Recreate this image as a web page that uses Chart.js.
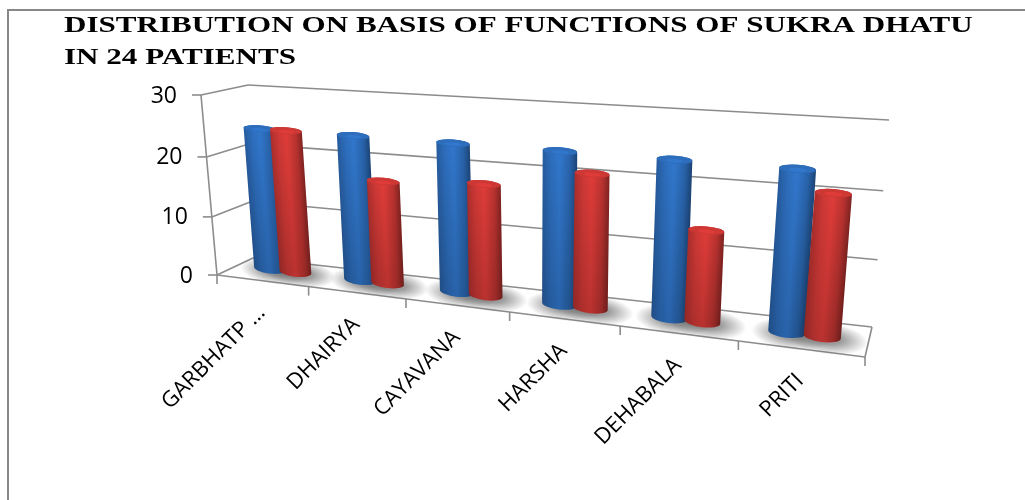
<!DOCTYPE html>
<html>
<head>
<meta charset="utf-8">
<style>
  html, body { margin: 0; padding: 0; background: #fff; }
  #grafica { display: block; }
</style>
<script src="https://cdn.jsdelivr.net/npm/chart.js@4"></script>
</head>
<body>
<canvas id="grafica" width="1025" height="500"></canvas>
<script>
const titleLines = ['DISTRIBUTION ON BASIS OF FUNCTIONS OF SUKRA DHATU', 'IN 24 PATIENTS'];
const categories = ['GARBHATP …', 'DHAIRYA', 'CAYAVANA', 'HARSHA', 'DEHABALA', 'PRITI'];
const blueValues = [24, 24, 24, 24, 24, 24];
const redValues = [24, 17, 18, 21, 14, 21];
const yTicks = [0, 10, 20, 30];

// corners of the 3D box: bottom-left, bottom-right, top-right, top-left
const frontPlane = [[217, 275], [865, 357], [884, 141], [201, 95]];
const backPlane = [[253, 258], [872, 327], [889, 120], [248, 85]];
// plane the cylinders stand on, about halfway back
const barPlane = [[239, 265], [867, 342], [886, 131], [224.5, 90]];

const axisColor = '#8c8c8c';
const labelFont = '"Open Sans", sans-serif';
const palettes = { '#2f72c4': [47, 114, 196], '#d63a37': [214, 58, 55] };

let area = null;

// unit square -> quad
function planeMap(q) {
    const [x0, y0] = q[0], [x1, y1] = q[1], [x2, y2] = q[2], [x3, y3] = q[3];
    const dx1 = x1 - x2, dx2 = x3 - x2, sx = x0 - x1 + x2 - x3;
    const dy1 = y1 - y2, dy2 = y3 - y2, sy = y0 - y1 + y2 - y3;
    const den = dx1 * dy2 - dx2 * dy1;
    const g = (sx * dy2 - dx2 * sy) / den, h = (dx1 * sy - sx * dy1) / den;
    const a = x1 - x0 + g * x1, b = x3 - x0 + h * x3;
    const d = y1 - y0 + g * y1, e = y3 - y0 + h * y3;
    return (u, v) => {
        const w = g * u + h * v + 1;
        return [(a * u + b * v + x0) / w, (d * u + e * v + y0) / w];
    };
}
const front = planeMap(frontPlane);
const back = planeMap(backPlane);
const mid = planeMap(barPlane);

function line(ctx, a, b) {
    ctx.beginPath();
    ctx.moveTo(a[0], a[1]);
    ctx.lineTo(b[0], b[1]);
    ctx.stroke();
}

function shade(rgb, f) {
    return 'rgb(' + rgb.map(c => Math.round(c * f)).join(',') + ')';
}

// bar element geometry -> cylinder on the middle plane of the box
function cylinderShape(el) {
    const u = (el.x - area.left) / area.width;
    const v = (area.bottom - el.y) / area.height;
    const bottom = mid(u, 0), top = mid(u, v);
    const next = mid(u + 0.01, 0), nextTop = mid(u + 0.01, v);
    const planeHeight = Math.abs(mid(u, 1)[1] - bottom[1]);
    const rx = el.width / area.width * planeHeight * 1.85;
    return {
        bottom, top, rx,
        tiltBottom: Math.atan2(next[1] - bottom[1], next[0] - bottom[0]),
        tiltTop: Math.atan2(nextTop[1] - top[1], nextTop[0] - top[0])
    };
}

// bars become cylinders standing on the floor of the box
Chart.BarElement.prototype.draw = function (ctx) {
    const s = cylinderShape(this);
    const rgb = palettes[this.options.backgroundColor];
    const ax = s.top[0] - s.bottom[0], ay = s.top[1] - s.bottom[1];
    const len = Math.hypot(ax, ay);
    const px = -ay / len * s.rx, py = ax / len * s.rx;
    const cx = (s.top[0] + s.bottom[0]) / 2, cy = (s.top[1] + s.bottom[1]) / 2;

    ctx.save();
    const side = new Path2D();
    side.ellipse(s.bottom[0], s.bottom[1], s.rx, s.rx * 0.3, s.tiltBottom, 0, Math.PI);
    side.ellipse(s.top[0], s.top[1], s.rx, s.rx * 0.22, s.tiltTop, Math.PI, Math.PI * 2);
    side.closePath();

    const across = ctx.createLinearGradient(cx - px, cy - py, cx + px, cy + py);
    across.addColorStop(0, shade(rgb, 0.8));
    across.addColorStop(0.25, shade(rgb, 0.96));
    across.addColorStop(0.5, shade(rgb, 1.04));
    across.addColorStop(0.8, shade(rgb, 0.86));
    across.addColorStop(1, shade(rgb, 0.6));
    ctx.fillStyle = across;
    ctx.fill(side);

    const along = ctx.createLinearGradient(s.top[0], s.top[1], s.bottom[0], s.bottom[1]);
    along.addColorStop(0, 'rgba(0,0,0,0)');
    along.addColorStop(1, 'rgba(0,0,0,0.16)');
    ctx.fillStyle = along;
    ctx.fill(side);

    // lid
    ctx.beginPath();
    ctx.ellipse(s.top[0], s.top[1], s.rx, s.rx * 0.22, s.tiltTop, 0, Math.PI * 2);
    ctx.fillStyle = shade(rgb, 0.96);
    ctx.fill();
    ctx.beginPath();
    ctx.ellipse(s.top[0], s.top[1] + 1, s.rx * 0.5, s.rx * 0.11, s.tiltTop, 0, Math.PI * 2);
    ctx.fillStyle = shade(rgb, 1.04);
    ctx.fill();
    ctx.restore();
};

const boxPlugin = {
    id: 'box',
    beforeDatasetsDraw(chart) {
        const ctx = chart.ctx;
        const y = chart.scales.y;
        const x = chart.scales.x;
        area = chart.chartArea;
        const vOf = val => (area.bottom - y.getPixelForValue(val)) / area.height;

        ctx.save();
        // frame of the chart object
        ctx.strokeStyle = '#888888';
        ctx.lineWidth = 2;
        ctx.beginPath();
        ctx.moveTo(8, 500);
        ctx.lineTo(8, 10);
        ctx.lineTo(1025, 10);
        ctx.stroke();

        // title, stretched sideways
        ctx.fillStyle = '#000';
        ctx.font = 'bold 24px "Liberation Serif", serif';
        ctx.textAlign = 'left';
        ctx.textBaseline = 'alphabetic';
        titleLines.forEach((t, i) => {
            ctx.save();
            ctx.translate(64, 32 + i * 32);
            ctx.scale(1.295, 1);
            ctx.fillText(t, 0, 0);
            ctx.restore();
        });

        ctx.strokeStyle = axisColor;
        ctx.lineWidth = 1.6;
        ctx.font = '23px ' + labelFont;
        ctx.textAlign = 'right';
        ctx.textBaseline = 'middle';
        yTicks.forEach(t => {
            const v = vOf(t);
            const f = front(0, v), b = back(0, v), r = back(1, v);
            line(ctx, f, b);
            line(ctx, b, r);
            line(ctx, [f[0] - 9, f[1]], f);
            ctx.fillText(String(t), f[0] - 24, f[1] + 1);
        });
        line(ctx, front(0, 0), front(0, vOf(yTicks[yTicks.length - 1])));
        line(ctx, front(0, 0), front(1, 0));
        line(ctx, front(1, 0), back(1, 0));

        // category dividers and rotated labels along the front edge
        for (let i = 0; i <= categories.length; i++) {
            const p = front(i / categories.length, 0);
            line(ctx, p, [p[0], p[1] + 9]);
        }
        ctx.font = '22px ' + labelFont;
        ctx.textBaseline = 'alphabetic';
        categories.forEach((c, i) => {
            const u = (x.getPixelForValue(i) - area.left) / area.width;
            const p = front(u, 0);
            ctx.save();
            ctx.translate(p[0] + 4, p[1] + 33);
            ctx.rotate(-Math.PI / 4);
            ctx.fillText(x.getLabelForValue(i), 0, 0);
            ctx.restore();
        });

        // soft shadows on the floor under each bar
        chart.data.datasets.forEach((ds, di) => {
            chart.getDatasetMeta(di).data.forEach(el => {
                const s = cylinderShape(el);
                const rx = s.rx * 2.2, ry = s.rx * 0.85;
                ctx.save();
                ctx.translate(s.bottom[0] + 5, s.bottom[1] + 2);
                ctx.rotate(s.tiltBottom);
                ctx.scale(1, ry / rx);
                const g = ctx.createRadialGradient(0, 0, rx * 0.35, 0, 0, rx);
                g.addColorStop(0, 'rgba(90,90,90,0.6)');
                g.addColorStop(1, 'rgba(90,90,90,0)');
                ctx.fillStyle = g;
                ctx.beginPath();
                ctx.arc(0, 0, rx, 0, Math.PI * 2);
                ctx.fill();
                ctx.restore();
            });
        });
        ctx.restore();
    },
    // series are painted in dataset order below, so red sits over blue
    beforeDatasetDraw() {
        return false;
    },
    afterDatasetsDraw(chart) {
        chart.data.datasets.forEach((ds, di) => {
            chart.getDatasetMeta(di).data.forEach(el => el.draw(chart.ctx));
        });
    }
};

const graph = document.querySelector('#grafica');
const config = {
    type: 'bar',
    data: {
        labels: categories,
        datasets: [
            { label: 'Blue', data: blueValues, backgroundColor: '#2f72c4' },
            { label: 'Red', data: redValues, backgroundColor: '#d63a37' }
        ]
    },
    plugins: [boxPlugin],
    options: {
        responsive: false,
        animation: false,
        layout: { padding: { left: 64, right: 40, top: 70, bottom: 20 } },
        categoryPercentage: 0.58,
        barPercentage: 1,
        scales: {
            x: { display: false },
            y: { display: false, min: 0, max: 30 }
        },
        plugins: {
            legend: { display: false },
            tooltip: { enabled: false },
            title: { display: false }
        }
    }
};
new Chart(graph, config);
</script>
</body>
</html>
